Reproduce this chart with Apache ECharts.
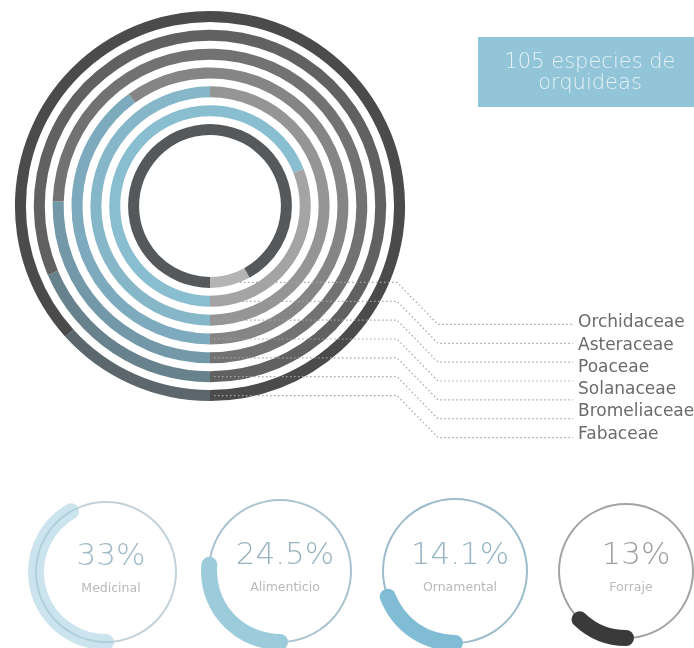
<!DOCTYPE html>
<html>
<head>
<meta charset="utf-8">
<script src="https://cdn.jsdelivr.net/npm/echarts@6/dist/echarts.min.js"></script>
<style>
  html, body { margin: 0; padding: 0; background: #fff; }
  #chart { width: 694px; height: 648px; }
</style>
</head>
<body>
<div id="chart"></div>
<script>
// rings, inner to outer; share = first segment, read clockwise from 6 o'clock
const rings = ["Total", "Orchidaceae", "Asteraceae", "Poaceae", "Solanaceae", "Bromeliaceae", "Fabaceae"];
const ringShare = [92, 69, 50, 40, 25.5, 18.6, 13.3];
const shareColors = ["#56595b", "#89bdd0", "#85b7c9", "#7dabbd", "#7399a8", "#68828d", "#5b676c"];
const restColors = ["#b4b4b4", "#a4a4a4", "#959595", "#858585", "#727272", "#616161", "#4b4b4b"];

// family labels beside the leader lines
const familyLabels = ["Orchidaceae", "Asteraceae", "Poaceae", "Solanaceae", "Bromeliaceae", "Fabaceae"];

// use gauges: printed value, and arc length as drawn (percent of full circle)
const uses = ["Medicinal", "Alimenticio", "Ornamental", "Forraje"];
const usePct = [33, 24.5, 14.1, 13];
const useArc = [41.7, 26.4, 19.2, 12.2];
const useArcColors = ["rgba(160,205,224,0.55)", "#9ccbdc", "#80bcd4", "#3a3a3a"];
const useRingColors = ["#c3d2da", "#a8c3cf", "#9dbccb", "#a3a3a3"];
const useTextColors = ["#9fb9c7", "#9ab3c1", "#96b4c4", "#9e9e9e"];

const polarCenter = [210, 206];
const polarRadius = [67, 199];
const band = (polarRadius[1] - polarRadius[0]) / rings.length;

const chart = echarts.init(document.getElementById("chart"));

const series = [
  {
    type: "bar",
    coordinateSystem: "polar",
    stack: "ring",
    barWidth: 11,
    silent: true,
    data: ringShare.map((v, i) => ({ value: v, itemStyle: { color: shareColors[i] } })),
  },
  {
    type: "bar",
    coordinateSystem: "polar",
    stack: "ring",
    barWidth: 11,
    silent: true,
    data: ringShare.map((v, i) => ({ value: 100 - v, itemStyle: { color: restColors[i] } })),
  },
];

const gaugeCenters = [[106, 572], [280, 571], [455, 571], [626, 571]];
const gaugeRadius = [70, 71, 72, 67];

uses.forEach((name, i) => {
  // thin outline circle
  series.push({
    type: "gauge",
    center: gaugeCenters[i],
    radius: gaugeRadius[i] + 1,
    startAngle: 270,
    endAngle: -90,
    min: 0,
    max: 100,
    silent: true,
    pointer: { show: false },
    axisTick: { show: false },
    splitLine: { show: false },
    axisLabel: { show: false },
    axisLine: { lineStyle: { width: 2, color: [[1, useRingColors[i]]] } },
    title: { show: false },
    detail: { show: false },
    data: [{ value: 0 }],
  });
  // thick progress arc, centred on the outline
  series.push({
    type: "gauge",
    center: gaugeCenters[i],
    radius: gaugeRadius[i] + 8,
    startAngle: 270,
    endAngle: -90,
    min: 0,
    max: 100,
    silent: true,
    pointer: { show: false },
    axisTick: { show: false },
    splitLine: { show: false },
    axisLabel: { show: false },
    axisLine: { lineStyle: { width: 16, color: [[1, "rgba(0,0,0,0)"]] } },
    progress: { show: true, width: 16, roundCap: true, itemStyle: { color: useArcColors[i] } },
    title: {
      offsetCenter: [5, 17],
      fontSize: 12.5,
      fontFamily: "DejaVu Sans",
      color: "#b9b9b9",
    },
    detail: {
      offsetCenter: [i === 3 ? 10 : 5, -15],
      fontSize: 31,
      fontWeight: 200,
      fontFamily: "DejaVu Sans",
      color: useTextColors[i],
      formatter: () => usePct[i] + "%",
    },
    data: [{ value: useArc[i], name: name }],
  });
});

// leader lines from the bottom of each ring
const graphics = [];
rings.forEach((r, i) => {
  const y = polarCenter[1] + polarRadius[0] + band * (i + 0.5);
  graphics.push({
    type: "polyline",
    z: 10,
    silent: true,
    shape: { points: [[i === 0 ? 240 : 214, y], [397, y], [438, y + 42], [573, y + 42]] },
    style: { stroke: "#a4a4a4", lineWidth: 1.2, lineDash: [1.5, 2.5], fill: null },
  });
});

const labelY = [323, 346, 368, 390, 412, 435];
familyLabels.forEach((t, i) => {
  graphics.push({
    type: "text",
    z: 10,
    x: 578,
    y: labelY[i],
    style: {
      text: t,
      font: "17px 'DejaVu Sans'",
      fill: "#6b6b6b",
      textVerticalAlign: "middle",
    },
  });
});

graphics.push({
  type: "rect",
  z: 10,
  shape: { x: 478, y: 37, width: 216, height: 70 },
  style: { fill: "#93c5d8" },
});
graphics.push({
  type: "text",
  z: 11,
  x: 590,
  y: 73,
  style: {
    text: "105 especies de\norquideas",
    font: "200 21px 'DejaVu Sans'",
    fill: "#e4f1f6",
    textAlign: "center",
    textVerticalAlign: "middle",
    lineHeight: 21,
  },
});

const option = {
  backgroundColor: "#fff",
  animation: false,
  polar: { center: polarCenter, radius: polarRadius },
  angleAxis: {
    type: "value",
    min: 0,
    max: 100,
    startAngle: 270,
    clockwise: true,
    show: false,
  },
  radiusAxis: {
    type: "category",
    data: rings,
    show: false,
  },
  graphic: { elements: graphics },
  series: series,
};

chart.setOption(option);
</script>
</body>
</html>
